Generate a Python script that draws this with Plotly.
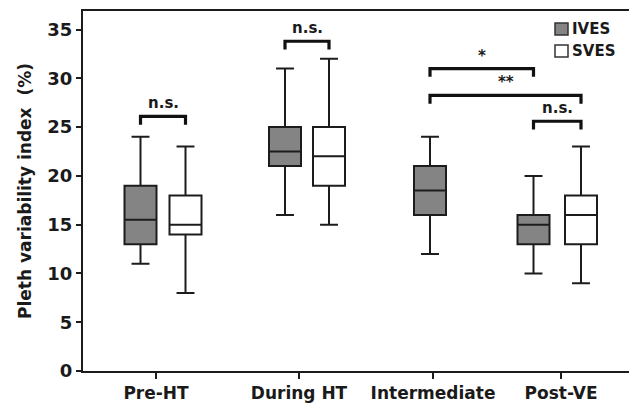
import plotly.graph_objects as go

# ---- data ----
categories = ["Pre-HT", "During HT", "Intermediate", "Post-VE"]
series_names = ["IVES", "SVES"]

# IVES boxes (all four phases)
ives_groups = ["Pre-HT", "During HT", "Intermediate", "Post-VE"]
ives_low = [11, 16, 12, 10]
ives_q1 = [13, 21, 16, 13]
ives_med = [15.5, 22.5, 18.5, 15]
ives_q3 = [19, 25, 21, 16]
ives_high = [24, 31, 24, 20]

# SVES boxes (no intermediate phase)
sves_groups = ["Pre-HT", "During HT", "Post-VE"]
sves_low = [8, 15, 9]
sves_q1 = [14, 19, 13]
sves_med = [15, 22, 16]
sves_q3 = [18, 25, 18]
sves_high = [23, 32, 23]

# significance brackets: (from box, to box, level, label)
brackets = [
    (("Pre-HT", "IVES"), ("Pre-HT", "SVES"), 26.1, "n.s."),
    (("During HT", "IVES"), ("During HT", "SVES"), 33.8, "n.s."),
    (("Intermediate", "IVES"), ("Post-VE", "IVES"), 31.0, "*"),
    (("Intermediate", "IVES"), ("Post-VE", "SVES"), 28.25, "**"),
    (("Post-VE", "IVES"), ("Post-VE", "SVES"), 25.6, "n.s."),
]

# ---- layout constants (axis positions of ticks and boxes) ----
tick_pos = {"Pre-HT": 0.73, "During HT": 2.16, "Intermediate": 3.50, "Post-VE": 4.78}
box_pos = {
    ("Pre-HT", "IVES"): 0.575, ("Pre-HT", "SVES"): 1.025,
    ("During HT", "IVES"): 2.02, ("During HT", "SVES"): 2.46,
    ("Intermediate", "IVES"): 3.47,
    ("Post-VE", "IVES"): 4.505, ("Post-VE", "SVES"): 4.98,
}
FONT = "DejaVu Sans, Arial, sans-serif"
TXT = "#1a1a1a"
LINE = "#1c1c1c"
fills = {"IVES": "#848484", "SVES": "#ffffff"}

fig = go.Figure()
for name, groups, lo, q1, md, q3, hi in [
    ("IVES", ives_groups, ives_low, ives_q1, ives_med, ives_q3, ives_high),
    ("SVES", sves_groups, sves_low, sves_q1, sves_med, sves_q3, sves_high),
]:
    fig.add_trace(go.Box(
        name=name,
        x=[box_pos[(g, name)] for g in groups],
        lowerfence=lo, q1=q1, median=md, q3=q3, upperfence=hi,
        width=0.32, whiskerwidth=0.56,
        fillcolor=fills[name],
        line=dict(color=LINE, width=2),
        boxpoints=False,
        showlegend=False,
        hoverinfo="skip",
    ))

leg = 0.85
for a, b, yv, label in brackets:
    x0, x1 = box_pos[a], box_pos[b]
    fig.add_shape(type="path",
                  path=f"M {x0},{yv-leg} L {x0},{yv} L {x1},{yv} L {x1},{yv-leg}",
                  xref="x", yref="y", line=dict(color="#111111", width=3.2))
    fig.add_annotation(x=(x0 + x1) / 2, y=yv, xref="x", yref="y", text=f"<b>{label}</b>",
                       showarrow=False, yanchor="bottom", yshift=2,
                       font=dict(family=FONT, size=15, color=TXT))

# manual legend
for i, name in enumerate(series_names):
    yc = 29 + i * 22
    fig.add_shape(type="rect", xref="paper", yref="paper",
                  x0=(555 - 83) / 546, x1=(568 - 83) / 546,
                  y0=(371 - yc - 6) / 360, y1=(371 - yc + 6) / 360,
                  fillcolor=fills[name], line=dict(color="#333333", width=1.5))
    fig.add_annotation(xref="paper", yref="paper", x=(570 - 83) / 546, y=(371 - yc) / 360,
                       text=f"<b>{name}</b>", showarrow=False, xanchor="left",
                       yanchor="middle", font=dict(family=FONT, size=15, color=TXT))

fig.update_layout(
    width=629, height=408,
    margin=dict(l=83, r=0, t=11, b=37),
    paper_bgcolor="white", plot_bgcolor="white",
    boxmode="overlay",
    showlegend=False,
    font=dict(family=FONT, color=TXT),
)
fig.update_xaxes(
    range=[0, 5.46], tickvals=[tick_pos[c] for c in categories],
    ticktext=[f"<b>{c}</b>" for c in categories],
    tickfont=dict(family=FONT, size=17, color=TXT),
    ticks="outside", ticklen=6, tickwidth=2, tickcolor=LINE,
    showline=True, linewidth=2, linecolor=LINE, mirror=True,
    showgrid=False, zeroline=False, automargin=False,
)
fig.update_yaxes(
    range=[0, 36.9], tickvals=[0, 5, 10, 15, 20, 25, 30, 35],
    ticktext=[f"<b>{v}</b>" for v in [0, 5, 10, 15, 20, 25, 30, 35]],
    tickfont=dict(family=FONT, size=18, color=TXT),
    ticks="outside", ticklen=5, tickwidth=2, tickcolor=LINE,
    showline=True, linewidth=2, linecolor=LINE,
    showgrid=False, zeroline=False, automargin=False,
    title=dict(text="<b>Pleth variability index\u00a0 (%)</b>",
               font=dict(family=FONT, size=17, color=TXT), standoff=11),
)
fig.write_html("out.html", config={"displayModeBar": False},
               post_script="document.body.style.margin='0';document.body.style.overflow='hidden';")
